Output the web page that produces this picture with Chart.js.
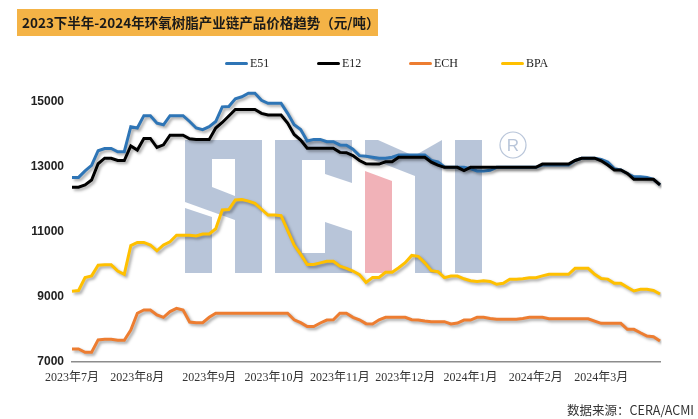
<!DOCTYPE html>
<html>
<head>
<meta charset="utf-8">
<script src="https://cdn.jsdelivr.net/npm/chart.js@4.4.1/dist/chart.umd.min.js"></script>
<style>
  html, body { margin: 0; padding: 0; background: #fff; }
  #wrap { position: relative; width: 698px; height: 419px; overflow: hidden; }
  #chart { position: absolute; left: 0; top: 0; }
  #title {
    position: absolute; left: 17px; top: 9px; width: 361px; height: 27px;
    background: #f4b346; color: #1a1a1a; font: bold 13.5px "Noto Sans CJK SC", sans-serif;
    line-height: 27px; padding-left: 5px; box-sizing: border-box; white-space: nowrap;
  }
  #legend { position: absolute; left: 225px; top: 56px; display: flex; }
  .item { width: 92px; display: flex; align-items: center; font: 12px "Liberation Serif", serif; color: #222; }
  .swatch { width: 23px; height: 3px; border-radius: 2px; margin-right: 2px; }
  #source { position: absolute; right: 4px; top: 400px; font: 12.5px "Noto Sans CJK SC", sans-serif; color: #333; }
</style>
</head>
<body>
<div id="wrap">
  <canvas id="chart" width="698" height="419"></canvas>
  <div id="title">2023下半年-2024年环氧树脂产业链产品价格趋势（元/吨）</div>
  <div id="legend"></div>
  <div id="source">数据来源：CERA/ACMI</div>
</div>
<script>
// --------------- Data ---------------
// one point every 3 days, 2023/7/1 - 2024/3/27
const dates = [
  '2023/7/1','2023/7/4','2023/7/7','2023/7/10','2023/7/13','2023/7/16','2023/7/19','2023/7/22','2023/7/25','2023/7/28','2023/7/31',
  '2023/8/3','2023/8/6','2023/8/9','2023/8/12','2023/8/15','2023/8/18','2023/8/21','2023/8/24','2023/8/27','2023/8/30',
  '2023/9/2','2023/9/5','2023/9/8','2023/9/11','2023/9/14','2023/9/17','2023/9/20','2023/9/23','2023/9/26','2023/9/29',
  '2023/10/2','2023/10/5','2023/10/8','2023/10/11','2023/10/14','2023/10/17','2023/10/20','2023/10/23','2023/10/26','2023/10/29',
  '2023/11/1','2023/11/4','2023/11/7','2023/11/10','2023/11/13','2023/11/16','2023/11/19','2023/11/22','2023/11/25','2023/11/28',
  '2023/12/1','2023/12/4','2023/12/7','2023/12/10','2023/12/13','2023/12/16','2023/12/19','2023/12/22','2023/12/25','2023/12/28','2023/12/31',
  '2024/1/3','2024/1/6','2024/1/9','2024/1/12','2024/1/15','2024/1/18','2024/1/21','2024/1/24','2024/1/27','2024/1/30',
  '2024/2/2','2024/2/5','2024/2/8','2024/2/11','2024/2/14','2024/2/17','2024/2/20','2024/2/23','2024/2/26','2024/2/29',
  '2024/3/3','2024/3/6','2024/3/9','2024/3/12','2024/3/15','2024/3/18','2024/3/21','2024/3/24','2024/3/27'
];

const e51 = [
  12680,12680,12880,13050,13500,13570,13570,13470,13470,14240,14200,
  14580,14580,14350,14300,14580,14580,14580,14400,14200,14150,
  14240,14400,14850,14860,15100,15160,15270,15270,15050,14960,
  14960,14960,14650,14300,14150,13800,13850,13850,13780,13780,
  13680,13670,13550,13350,13330,13300,13270,13270,13300,13370,
  13370,13370,13370,13370,13200,13160,13000,12990,12990,12990,12950,
  12880,12880,12900,12990,12990,12990,12990,12990,12990,12990,
  13060,13060,13060,13060,13060,13200,13270,13270,13270,13230,
  13150,12950,12910,12800,12700,12700,12680,12620,12450
];

const e12 = [
  12380,12380,12450,12600,13100,13270,13270,13200,13200,13650,13520,
  13880,13880,13600,13680,13980,13980,13980,13870,13850,13850,
  13850,14200,14370,14570,14770,14770,14770,14770,14650,14600,
  14600,14600,14350,14000,13830,13580,13580,13580,13580,13580,
  13450,13440,13350,13200,13100,13090,13090,13160,13160,13300,
  13300,13300,13300,13300,13150,13060,12990,12990,12990,12890,12990,
  12990,12990,12990,12990,12990,12990,12990,12990,12990,12990,
  13090,13090,13090,13090,13090,13200,13270,13270,13270,13190,
  13060,12910,12910,12800,12620,12620,12620,12620,12450
];

const ech = [
  7400,7400,7300,7300,7680,7700,7700,7670,7670,7980,8500,
  8600,8600,8450,8375,8550,8650,8600,8230,8210,8210,
  8375,8500,8500,8500,8500,8500,8500,8500,8500,8500,
  8500,8500,8500,8300,8210,8090,8090,8200,8290,8300,
  8500,8500,8375,8300,8180,8170,8300,8375,8375,8375,
  8375,8300,8290,8260,8240,8240,8240,8170,8200,8290,8290,
  8375,8375,8340,8313,8313,8313,8313,8340,8375,8375,
  8375,8330,8330,8330,8330,8330,8330,8330,8260,8190,
  8190,8190,8190,8006,8006,7900,7800,7780,7646
];

const bpa = [
  9180,9200,9600,9650,9980,9990,9990,9800,9700,10580,10680,
  10680,10600,10420,10600,10700,10900,10900,10900,10880,10940,
  10940,11100,11680,11690,11985,12000,11950,11880,11700,11520,
  11520,11500,11050,10600,10310,10000,10000,10050,10100,10100,
  9950,9880,9800,9690,9450,9600,9600,9760,9760,9900,
  10055,10280,10250,10050,9810,9780,9594,9646,9646,9560,9502,
  9480,9502,9480,9390,9420,9544,9544,9560,9594,9594,
  9650,9698,9698,9698,9698,9883,9883,9883,9700,9570,
  9550,9420,9420,9300,9185,9236,9236,9200,9092
];

const seriesNames = ['E51', 'E12', 'ECH', 'BPA'];
const seriesColors = ['#2e75b6', '#000000', '#ed7d31', '#ffc000'];

// x tick labels sit on the first point of each month
const monthTickIdx = [0, 10, 21, 31, 41, 51, 61, 71, 81];
const monthLabels = ['2023年7月','2023年8月','2023年9月','2023年10月','2023年11月','2023年12月','2024年1月','2024年2月','2024年3月'];
const yTicks = [7000, 9000, 11000, 13000, 15000];

// --------------- Legend (html) ---------------
const legendEl = document.getElementById('legend');
seriesNames.forEach((name, i) => {
  const item = document.createElement('div');
  item.className = 'item';
  item.innerHTML = `<span class="swatch" style="background:${seriesColors[i]}"></span>${name}`;
  legendEl.appendChild(item);
});

// --------------- Plugins ---------------
// soft drop shadow under each line, like the original
const lineShadow = {
  id: 'lineShadow',
  beforeDatasetDraw(chart) {
    const c = chart.ctx;
    c.save();
    c.shadowColor = 'rgba(0,0,0,0.35)';
    c.shadowBlur = 3;
    c.shadowOffsetX = 2;
    c.shadowOffsetY = 2;
  },
  afterDatasetDraw(chart) {
    chart.ctx.restore();
  }
};

// ACMI watermark behind the lines
const watermark = {
  id: 'watermark',
  beforeDatasetsDraw(chart) {
    const c = chart.ctx;
    const poly = (pts, color) => {
      c.fillStyle = color;
      c.beginPath();
      c.moveTo(pts[0][0], pts[0][1]);
      for (let k = 1; k < pts.length; k++) c.lineTo(pts[k][0], pts[k][1]);
      c.closePath();
      c.fill();
    };
    const grey = 'rgba(172,187,210,0.85)';
    c.save();
    // A
    poly([[185,140],[262,140],[262,273],[235,273],[235,159],[212,159],[212,187],[235,196],[235,220],[185,202]], grey);
    poly([[185,208],[212,217],[212,273],[185,273]], grey);
    // C
    poly([[275,140],[352,140],[352,183],[325,174],[325,160],[302,160],[302,253],[325,253],[325,222],[352,231],[352,273],[275,273]], grey);
    // M
    poly([[365,140],[378,140],[414,156],[442,140],[442,273],[415,273],[415,176],[392,167],[365,157]], grey);
    poly([[365,171],[392,181],[392,273],[365,273]], 'rgba(240,170,176,0.9)');
    // I
    poly([[455,140],[482,140],[482,273],[455,273]], grey);
    // registered mark
    c.strokeStyle = grey;
    c.lineWidth = 1.2;
    c.beginPath();
    c.arc(513, 145, 13, 0, Math.PI * 2);
    c.stroke();
    c.fillStyle = grey;
    c.font = '17px "Liberation Sans"';
    c.textAlign = 'center';
    c.textBaseline = 'middle';
    c.fillText('R', 513, 146);
    c.restore();
  }
};

// --------------- Chart ---------------
const valueLists = [e51, e12, ech, bpa];
const drawOrder = [1, 0, 2, 3];

new Chart(document.getElementById('chart'), {
  type: 'line',
  data: {
    labels: dates,
    datasets: seriesNames.map((name, i) => ({
      label: name,
      data: valueLists[i],
      borderColor: seriesColors[i],
      backgroundColor: seriesColors[i],
      borderWidth: 3,
      pointRadius: 0,
      tension: 0,
      order: drawOrder[i]
    }))
  },
  options: {
    responsive: false,
    animation: false,
    layout: { padding: { left: 31, right: 38, top: 69.5, bottom: 15 } },
    plugins: {
      legend: { display: false },
      tooltip: { enabled: false }
    },
    scales: {
      x: {
        grid: { display: false, drawTicks: false },
        border: { display: true, color: '#8c8c8c', width: 1.5 },
        afterBuildTicks: scale => {
          scale.ticks = monthTickIdx.map(v => ({ value: v }));
        },
        afterFit: scale => { scale.height = 42; },
        ticks: {
          autoSkip: false,
          maxRotation: 0,
          padding: 9,
          color: '#333',
          font: { family: "'Liberation Serif', 'Noto Sans CJK SC'", size: 12 },
          callback: (v) => monthLabels[monthTickIdx.indexOf(v)]
        }
      },
      y: {
        min: 7000,
        max: 16000,
        grid: { display: false, drawTicks: false },
        border: { display: false },
        afterBuildTicks: scale => {
          scale.ticks = yTicks.map(v => ({ value: v }));
        },
        afterFit: scale => { scale.width = 41; },
        ticks: {
          padding: 8,
          color: '#222',
          font: { family: 'Liberation Sans', size: 12, weight: 'bold' },
          callback: v => String(v)
        }
      }
    }
  },
  plugins: [watermark, lineShadow]
});
</script>
</body>
</html>
